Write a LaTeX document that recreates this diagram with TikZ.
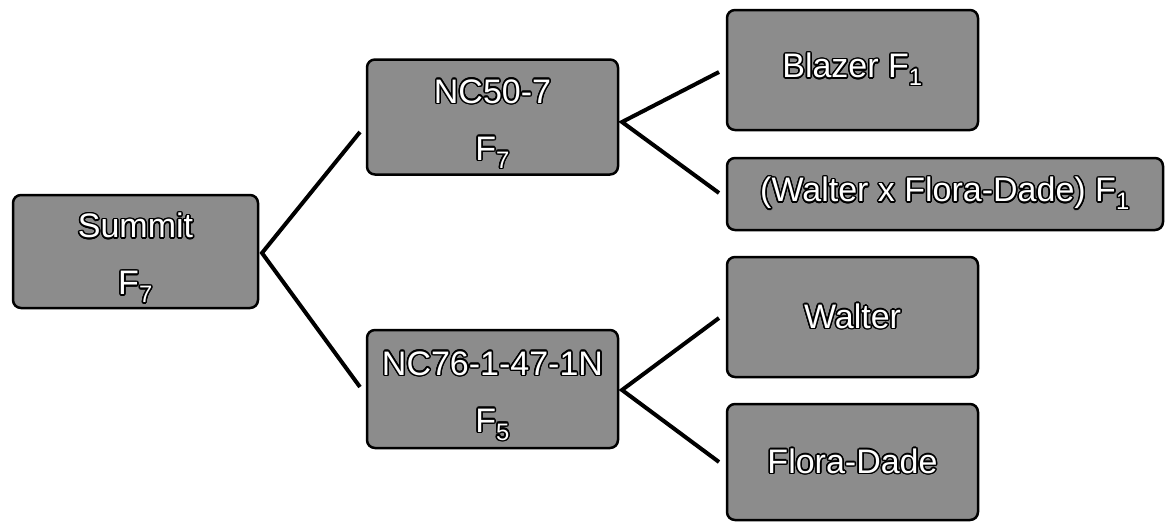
\documentclass[tikz,border=0pt]{standalone}
\usepackage{fontspec}
\setmainfont{Liberation Sans}
\usepackage{contour}
\contourlength{1.5pt}
\newcommand{\ot}[1]{\contour{black}{\textcolor{white}{#1}}}
\newcommand{\topstrut}{\rule{0pt}{39pt}}
\begin{document}
\begin{tikzpicture}[x=1pt,y=-1pt,
  box/.style={draw=black,line width=2.5pt,rounded corners=8pt,fill=black!45,
    inner sep=0pt,align=center,font=\fontsize{34}{57}\selectfont},
  conn/.style={line width=4pt}]
\useasboundingbox (0,0) rectangle (1167,528);
\node[box,minimum width=245pt,minimum height=113pt] (summit) at (135.5,251.5) {\topstrut\ot{Summit}\\\ot{F\textsubscript{7}}};
\node[box,minimum width=251pt,minimum height=115pt] (nc50) at (492.5,117) {\topstrut\ot{NC50-7}\\\ot{F\textsubscript{7}}};
\node[box,minimum width=251pt,minimum height=118pt] (nc76) at (492.5,389) {\topstrut\ot{NC76-1-47-1N}\\\ot{F\textsubscript{5}}};
\node[box,minimum width=251pt,minimum height=120pt] (blazer) at (852.5,70) {\ot{Blazer F\textsubscript{1}}};
\node[box,minimum width=436pt,minimum height=72pt] (wxf) at (945,194) {\ot{(Walter x Flora-Dade) F\textsubscript{1}}};
\node[box,minimum width=251pt,minimum height=120pt] (walter) at (852.5,317) {\ot{Walter}};
\node[box,minimum width=251pt,minimum height=116pt] (flora) at (852.5,462) {\ot{Flora-Dade}};
\coordinate (sA) at (262,253);
\coordinate (n50L) at (360,132);
\coordinate (n76L) at (360,387);
\coordinate (n50A) at (622,122);
\coordinate (blzL) at (719,72);
\coordinate (wxfL) at (719,193);
\coordinate (n76A) at (622,390);
\coordinate (walL) at (719,318);
\coordinate (flrL) at (719,462);
\draw[conn] (n50L) -- (sA) -- (n76L);
\draw[conn] (blzL) -- (n50A) -- (wxfL);
\draw[conn] (walL) -- (n76A) -- (flrL);
\end{tikzpicture}
\end{document}
